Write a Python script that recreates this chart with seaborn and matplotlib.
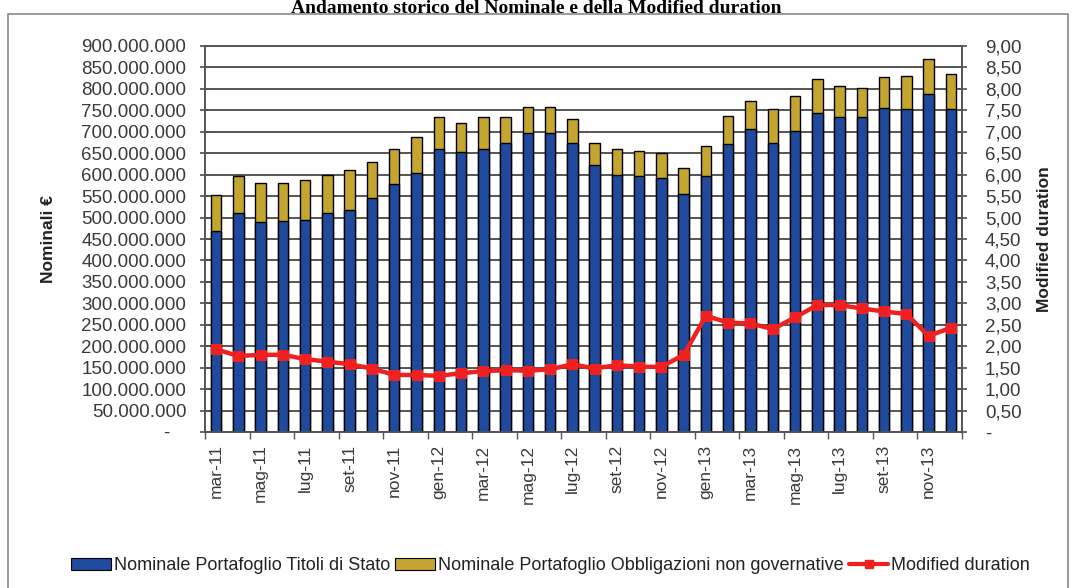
import numpy as np
import pandas as pd
import matplotlib
matplotlib.use("Agg")
import matplotlib.pyplot as plt
from matplotlib.patches import Patch, Rectangle
from matplotlib.lines import Line2D
from matplotlib.ticker import FuncFormatter, MultipleLocator, FixedLocator
import seaborn as sns

# Monthly series, March 2011 - December 2013
mesi = ["mar-11", "apr-11", "mag-11", "giu-11", "lug-11", "ago-11", "set-11", "ott-11",
        "nov-11", "dic-11",
        "gen-12", "feb-12", "mar-12", "apr-12", "mag-12", "giu-12", "lug-12", "ago-12",
        "set-12", "ott-12", "nov-12", "dic-12",
        "gen-13", "feb-13", "mar-13", "apr-13", "mag-13", "giu-13", "lug-13", "ago-13",
        "set-13", "ott-13", "nov-13", "dic-13"]

# Nominal amounts, millions of euro
titoli_stato_mln = [469, 510, 490, 492, 494, 510, 517, 546, 578, 603,
                    661, 653, 661, 673, 698, 698, 675, 622, 599, 598, 593, 554,
                    598, 671, 706, 675, 702, 744, 734, 734, 755, 752, 788, 752]
obbligazioni_mln = [83, 88, 91, 89, 93, 89, 94, 84, 83, 84,
                    73, 68, 74, 62, 59, 59, 54, 51, 61, 57, 57, 61,
                    69, 66, 66, 78, 82, 79, 73, 69, 72, 79, 81, 83]

# Modified duration
modified_duration = [1.93, 1.77, 1.80, 1.80, 1.70, 1.64, 1.58, 1.48, 1.33, 1.33,
                     1.31, 1.37, 1.42, 1.44, 1.43, 1.46, 1.58, 1.48, 1.56, 1.52, 1.52, 1.80,
                     2.71, 2.55, 2.53, 2.40, 2.67, 2.96, 2.96, 2.88, 2.81, 2.75, 2.24, 2.43]

lbl_stato = "Nominale Portafoglio Titoli di Stato"
lbl_obbl = "Nominale Portafoglio Obbligazioni non governative"
lbl_md = "Modified duration"

df = pd.DataFrame({
    "mese": mesi,
    "stato": np.array(titoli_stato_mln) * 1e6,
    "obbl": np.array(obbligazioni_mln) * 1e6,
    "md": modified_duration,
})
df["totale"] = df["stato"] + df["obbl"]
df["pos"] = np.arange(len(df))

sns.set_theme(style="white")
plt.rcParams["font.family"] = ["Liberation Sans", "DejaVu Sans"]

BLUE = "#1f4a9e"
GOLD = "#c4a530"
RED = "#f02020"
GRID = "#555555"
TXT = "#3a3a3a"

W, H = 1073, 588
fig = plt.figure(figsize=(W / 100, H / 100), dpi=100)
ax = fig.add_axes([205 / W, 1 - 432 / H, (962 - 205) / W, (432 - 46) / H])

# outer frame of the chart object
fig.patches.append(Rectangle((8 / W, -0.05), 1060 / W, 1.05 - 14 / H,
                             transform=fig.transFigure, fill=False,
                             edgecolor="#8a8a8a", linewidth=1.2))

# stacked bars: total (gold) underneath, government bonds (blue) on top of it
sns.barplot(data=df, x="mese", y="totale", color=GOLD, saturation=1, width=0.47,
            edgecolor="black", linewidth=1.0, ax=ax, zorder=2)
sns.barplot(data=df, x="mese", y="stato", color=BLUE, saturation=1, width=0.47,
            edgecolor="black", linewidth=1.0, ax=ax, zorder=3)

ax.set_ylim(0, 900e6)
ax.set_xlim(-0.5, len(df) - 0.5)
ax.yaxis.set_major_locator(MultipleLocator(50e6))
ax.yaxis.set_major_formatter(FuncFormatter(
    lambda v, p: "-   " if abs(v) < 1 else f"{int(round(v)):,}".replace(",", ".")))
ax.set_axisbelow(True)
ax.yaxis.grid(True, color=GRID, linewidth=1.4)
ax.xaxis.grid(False)

ax.set_xticks(np.arange(0, len(df), 2))
ax.set_xticklabels(mesi[::2], rotation=90)
ax.xaxis.set_minor_locator(FixedLocator(np.arange(-0.5, len(df), 2)))
ax.tick_params(axis="x", which="major", length=0, pad=9, labelsize=12.5, labelcolor=TXT)
ax.tick_params(axis="x", which="minor", length=5, direction="out", color=GRID, bottom=True)
ax.tick_params(axis="y", which="major", length=7, direction="inout", color=GRID,
               left=True, labelsize=13.5, labelcolor=TXT, pad=10)
ax.set_xlabel("")
ax.set_ylabel("Nominali €", fontsize=12.5, fontweight="bold", color="#222222", labelpad=18)

for s in ax.spines.values():
    s.set_color(GRID)
    s.set_linewidth(1.2)

# duration line on the secondary axis
ax2 = ax.twinx()
sns.lineplot(data=df, x="pos", y="md", color=RED, linewidth=3.2, marker="s",
             markersize=7, markeredgecolor=RED, ax=ax2, zorder=5)
ax2.set_ylim(0, 9)
ax2.set_xlim(-0.5, len(df) - 0.5)
ax2.yaxis.set_major_locator(MultipleLocator(0.5))
ax2.yaxis.set_major_formatter(FuncFormatter(
    lambda v, p: "-" if abs(v) < 1e-9 else f"{v:.2f}".replace(".", ",")))
ax2.tick_params(axis="y", length=7, direction="inout", color=GRID, right=True,
                labelsize=13.5, labelcolor=TXT, pad=13)
ax2.set_ylabel("Modified duration", fontsize=12.5, fontweight="bold", color="#222222",
               labelpad=11)
ax2.grid(False)
for s in ax2.spines.values():
    s.set_color(GRID)
    s.set_linewidth(1.2)

fig.text(0.5, 1 - 13 / H, "Andamento storico del Nominale e della Modified duration",
         ha="center", va="baseline", fontsize=14, fontweight="bold",
         family=["Liberation Serif", "DejaVu Serif"], color="black")

handles = [
    Patch(facecolor=BLUE, edgecolor="black", linewidth=0.8, label=lbl_stato),
    Patch(facecolor=GOLD, edgecolor="black", linewidth=0.8, label=lbl_obbl),
    Line2D([], [], color=RED, linewidth=3, marker="s", markersize=6, label=lbl_md),
]
fig.legend(handles=handles, loc="center", bbox_to_anchor=(0.513, 1 - 566 / H), ncol=3,
           frameon=False, fontsize=13, handlelength=2.2, handleheight=0.6,
           handletextpad=0.15, columnspacing=0.3, labelcolor="#222222")

fig.savefig("out.png", dpi=100)
